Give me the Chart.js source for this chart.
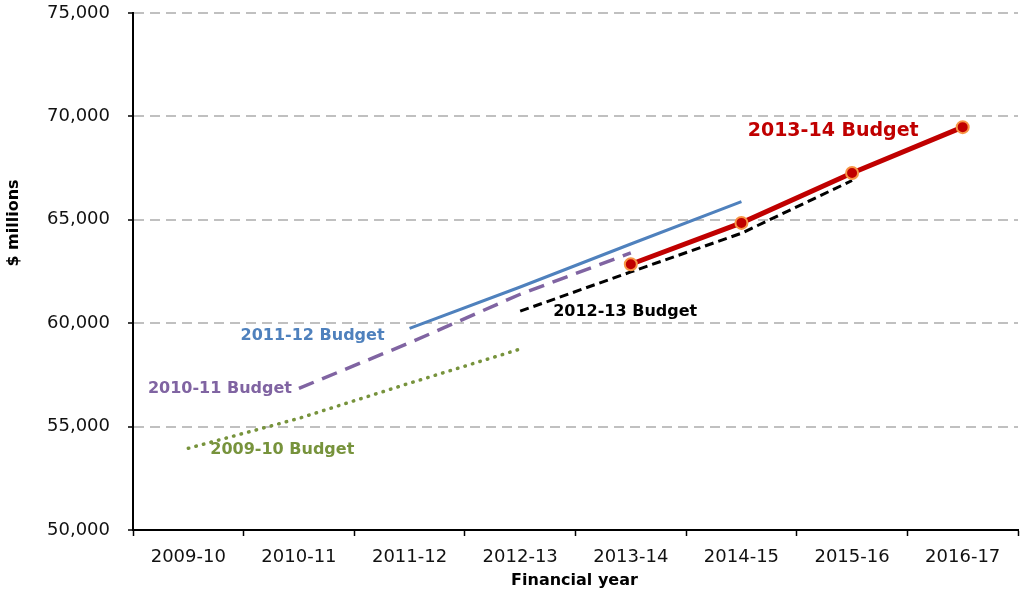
<!DOCTYPE html>
<html lang="en">
<head>
    <meta charset="UTF-8">
    <title>Budget estimates by financial year</title>
    <script src="https://cdn.jsdelivr.net/npm/chart.js"></script>
    <style>
        html, body { margin: 0; padding: 0; background: #fff; }
        #wrap { width: 1022px; height: 592px; }
    </style>
</head>
<body>
    <div id="wrap"><canvas id="budgetChart" width="1022" height="592"></canvas></div>

    <script>
        // --- data ---
        const years = ['2009-10', '2010-11', '2011-12', '2012-13', '2013-14', '2014-15', '2015-16', '2016-17'];
        const budget0910 = [53950, 55400, 57100, 58750, null, null, null, null];
        const budget1011 = [null, 56850, 59050, 61400, 63400, null, null, null];
        const budget1112 = [null, null, 59750, 61750, 63830, 65880, null, null];
        const budget1213 = [null, null, null, 60580, 62480, 64350, 66900, null];
        const budget1314 = [null, null, null, null, 62850, 64850, 67260, 69480];
        const yTicks = [50000, 55000, 60000, 65000, 70000, 75000];

        const FONT = "'DejaVu Sans', Verdana, sans-serif";

        // series labels: anchored to one of the series' points, then nudged
        const seriesLabels = [
            { text: '2009-10 Budget', data: budget0910, idx: 0, dx: 22, dy: 2, align: 'left', color: '#77933C', size: 16 },
            { text: '2010-11 Budget', data: budget1011, idx: 1, dx: -7, dy: 1, align: 'right', color: '#8064A2', size: 16 },
            { text: '2011-12 Budget', data: budget1112, idx: 2, dx: -25, dy: 7, align: 'right', color: '#4F81BD', size: 16 },
            { text: '2012-13 Budget', data: budget1213, idx: 3, dx: 33, dy: 1, align: 'left', color: '#000000', size: 16 },
            { text: '2013-14 Budget', data: budget1314, idx: 7, dx: -215, dy: 4, align: 'left', color: '#C00000', size: 19 }
        ];

        const annotations = {
            id: 'annotations',
            afterDatasetsDraw(chart) {
                const { ctx, scales: { x, y }, chartArea } = chart;
                ctx.save();
                ctx.textBaseline = 'middle';
                seriesLabels.forEach(l => {
                    const px = x.getPixelForValue(l.idx);
                    const py = y.getPixelForValue(l.data[l.idx]);
                    ctx.font = 'bold ' + l.size + 'px ' + FONT;
                    ctx.fillStyle = l.color;
                    ctx.textAlign = l.align;
                    ctx.fillText(l.text, px + l.dx, py + l.dy);
                });
                // axis titles
                ctx.fillStyle = '#000';
                ctx.font = 'bold 16px ' + FONT;
                ctx.textAlign = 'center';
                ctx.fillText('Financial year', (chartArea.left + chartArea.right) / 2 - 1, chartArea.bottom + 51);
                ctx.translate(14, chartArea.top + 210);
                ctx.rotate(-Math.PI / 2);
                ctx.fillText('$ millions', 0, 0);
                ctx.restore();
            }
        };

        const ctx = document.getElementById('budgetChart').getContext('2d');
        new Chart(ctx, {
            type: 'line',
            data: {
                labels: years,
                datasets: [{
                    label: '2013-14 Budget',
                    data: budget1314,
                    borderColor: '#C00000',
                    borderWidth: 5,
                    pointRadius: 6,
                    pointBackgroundColor: '#C00000',
                    pointBorderColor: '#F79646',
                    pointBorderWidth: 2
                }, {
                    label: '2012-13 Budget',
                    data: budget1213,
                    borderColor: '#000000',
                    borderWidth: 3,
                    borderDash: [9, 5],
                    pointRadius: 0
                }, {
                    label: '2011-12 Budget',
                    data: budget1112,
                    borderColor: '#4F81BD',
                    borderWidth: 3,
                    pointRadius: 0
                }, {
                    label: '2010-11 Budget',
                    data: budget1011,
                    borderColor: '#8064A2',
                    borderWidth: 3.5,
                    borderDash: [16, 9],
                    pointRadius: 0
                }, {
                    label: '2009-10 Budget',
                    data: budget0910,
                    borderColor: '#77933C',
                    borderWidth: 3.5,
                    borderDash: [0.5, 7.3],
                    borderCapStyle: 'round',
                    pointRadius: 0
                }]
            },
            options: {
                responsive: false,
                animation: false,
                events: [],
                layout: { autoPadding: false, padding: { top: 13, right: 4, left: 0, bottom: 0 } },
                plugins: {
                    legend: { display: false },
                    tooltip: { enabled: false }
                },
                scales: {
                    x: {
                        offset: true,
                        afterFit: (scale) => {
                            scale.height = 62;
                            scale.paddingLeft = 0;
                            scale.paddingRight = 0;
                        },
                        grid: {
                            offset: true,
                            drawOnChartArea: false,
                            tickLength: 6,
                            tickColor: '#000',
                            tickWidth: 1.5
                        },
                        border: { color: '#000', width: 2 },
                        ticks: {
                            color: '#111',
                            padding: 11,
                            maxRotation: 0,
                            font: { family: FONT, size: 18 }
                        }
                    },
                    y: {
                        min: 50000,
                        max: 75000,
                        afterFit: (scale) => {
                            scale.width = 133;
                            scale.paddingTop = 0;
                            scale.paddingBottom = 0;
                        },
                        afterBuildTicks: (scale) => { scale.ticks = yTicks.map(v => ({ value: v })); },
                        grid: {
                            color: '#C0C0C0',
                            lineWidth: 2,
                            tickLength: 5,
                            tickColor: '#000',
                            tickWidth: 1.5,
                            tickBorderDash: []
                        },
                        // in v4 border.dash dashes the grid lines
                        border: { color: '#000', width: 2, dash: [10, 6] },
                        ticks: {
                            color: '#111',
                            padding: 18,
                            font: { family: FONT, size: 18 },
                            callback: (v) => v.toLocaleString('en-US')
                        }
                    }
                }
            },
            plugins: [annotations]
        });
    </script>
</body>
</html>
